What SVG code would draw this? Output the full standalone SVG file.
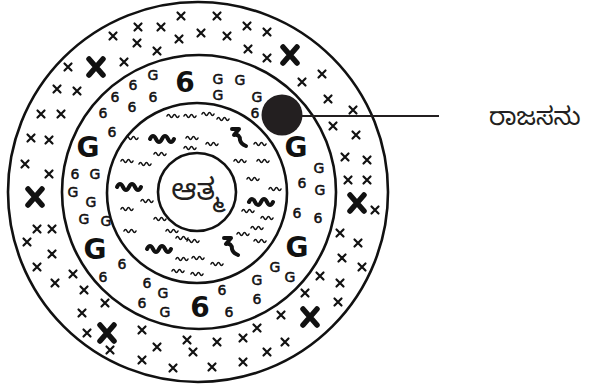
<svg xmlns="http://www.w3.org/2000/svg" xmlns:xlink="http://www.w3.org/1999/xlink" width="599" height="389" viewBox="0 0 599 389">
<style>
.ring{fill:none;stroke:#111;stroke-width:2.6}
.xs{stroke:#111;stroke-width:2.2;fill:none;stroke-linecap:round}
.xb{stroke:#111;stroke-width:5.5;fill:none;stroke-linecap:round}
.sq{stroke:#111;stroke-width:1.6;fill:none;stroke-linecap:round}
.sqb{stroke:#111;stroke-width:4;fill:none;stroke-linecap:round;stroke-linejoin:round}
.g{font-family:"DejaVu Sans",sans-serif;font-size:14px;fill:#111;stroke:#111;stroke-width:0.5;text-anchor:middle}
.gb{font-family:"DejaVu Sans",sans-serif;font-size:28px;font-weight:bold;fill:#111;text-anchor:middle}
.kn{font-family:"Noto Sans Kannada","Noto Sans","DejaVu Sans",sans-serif;fill:#231f20}
.conn{stroke:#231f20;stroke-width:2;fill:none}
</style>
<defs>
<path id="x" d="M-3.5,-3.5 L3.5,3.5 M3.5,-3.5 L-3.5,3.5"/>
<path id="X" d="M-7,-8 L7,8 M7,-8 L-7,8"/>
<path id="s" d="M-6,1 q1.5,-3 3,0 t3,0 t3,0 t3,0"/>
<path id="S" d="M-13,2 q3,-6 6,0 t6,0 t6,0 t6,0"/>
<path id="Z" d="M-6,-9 l7,0 l-5,6 q6,-1 6,5 q1,4 6,6"/>
</defs>
<rect width="599" height="389" fill="#fff"/>
<g id="outer-ring">
<circle class="ring" cx="198" cy="192" r="190"/>
<g class="xs">
<use href="#x" x="181" y="16"/><use href="#x" x="217" y="16"/><use href="#x" x="138" y="27"/><use href="#x" x="161" y="27"/>
<use href="#x" x="247" y="26"/><use href="#x" x="267" y="32"/><use href="#x" x="113" y="36"/><use href="#x" x="201" y="33"/>
<use href="#x" x="227" y="36"/><use href="#x" x="137" y="43"/><use href="#x" x="179" y="39"/><use href="#x" x="157" y="51"/>
<use href="#x" x="248" y="49"/><use href="#x" x="267" y="58"/><use href="#x" x="124" y="62"/><use href="#x" x="68" y="67"/>
<use href="#x" x="322" y="74"/><use href="#x" x="302" y="82"/><use href="#x" x="57" y="89"/><use href="#x" x="77" y="91"/>
<use href="#x" x="328" y="99"/><use href="#x" x="353" y="110"/><use href="#x" x="41" y="114"/><use href="#x" x="61" y="114"/>
<use href="#x" x="333" y="126"/><use href="#x" x="356" y="135"/><use href="#x" x="31" y="138"/><use href="#x" x="49" y="140"/>
<use href="#x" x="345" y="157"/><use href="#x" x="367" y="160"/><use href="#x" x="25" y="164"/><use href="#x" x="49" y="174"/>
<use href="#x" x="348" y="180"/><use href="#x" x="367" y="180"/><use href="#x" x="375" y="210"/><use href="#x" x="37" y="229"/>
<use href="#x" x="52" y="229"/><use href="#x" x="27" y="242"/><use href="#x" x="340" y="233"/><use href="#x" x="358" y="243"/>
<use href="#x" x="52" y="254"/><use href="#x" x="342" y="258"/><use href="#x" x="362" y="267"/><use href="#x" x="37" y="267"/>
<use href="#x" x="73" y="274"/><use href="#x" x="320" y="276"/><use href="#x" x="340" y="283"/><use href="#x" x="55" y="283"/>
<use href="#x" x="84" y="290"/><use href="#x" x="305" y="293"/><use href="#x" x="338" y="302"/><use href="#x" x="105" y="303"/>
<use href="#x" x="82" y="313"/><use href="#x" x="281" y="315"/><use href="#x" x="87" y="333"/><use href="#x" x="142" y="330"/>
<use href="#x" x="187" y="340"/><use href="#x" x="257" y="328"/><use href="#x" x="157" y="347"/><use href="#x" x="217" y="342"/>
<use href="#x" x="243" y="338"/><use href="#x" x="285" y="342"/><use href="#x" x="110" y="350"/><use href="#x" x="193" y="352"/>
<use href="#x" x="267" y="352"/><use href="#x" x="142" y="360"/><use href="#x" x="173" y="368"/><use href="#x" x="212" y="367"/>
<use href="#x" x="243" y="362"/>
</g>
<g class="xb">
<use href="#X" x="96" y="67"/><use href="#X" x="290" y="55"/><use href="#X" x="35" y="197"/>
<use href="#X" x="357" y="203"/><use href="#X" x="310" y="317"/><use href="#X" x="107" y="333"/>
</g>
</g>
<g id="middle-ring">
<circle class="ring" cx="199" cy="192" r="137"/>
<text class="gb" x="185" y="92">6</text>
<text class="gb" x="88" y="157">G</text>
<text class="gb" x="296" y="157">G</text>
<text class="gb" x="95" y="259">G</text>
<text class="gb" x="297" y="257">G</text>
<text class="gb" x="200" y="317">6</text>
<g class="g">
<text x="153" y="80">G</text><text x="133" y="90">6</text><text x="115" y="102">6</text><text x="132" y="112">6</text>
<text x="153" y="102">6</text><text x="103" y="118">6</text><text x="112" y="137">6</text><text x="218" y="84">G</text>
<text x="240" y="85">G</text><text x="218" y="100">G</text><text x="257" y="102">G</text><text x="255" y="118">6</text>
<text x="75" y="179">6</text><text x="95" y="179">G</text><text x="73" y="197">G</text><text x="91" y="207">G</text>
<text x="84" y="224">G</text><text x="106" y="226">G</text><text x="122" y="269">6</text><text x="103" y="282">6</text>
<text x="147" y="288">6</text><text x="163" y="298">G</text><text x="142" y="308">6</text><text x="165" y="317">G</text>
<text x="222" y="295">6</text><text x="229" y="317">6</text><text x="257" y="285">G</text><text x="257" y="304">6</text>
<text x="275" y="272">G</text><text x="290" y="282">G</text><text x="319" y="173">G</text><text x="302" y="188">6</text>
<text x="320" y="195">G</text><text x="297" y="218">6</text><text x="318" y="223">6</text>
</g>
</g>
<g id="inner-ring">
<circle class="ring" cx="197" cy="193" r="90"/>
<g class="sqb">
<use href="#S" x="163" y="137"/><use href="#S" x="130" y="185"/><use href="#S" x="262" y="200"/><use href="#S" x="160" y="247"/>
<use href="#Z" x="238" y="138"/><use href="#Z" x="230" y="247"/>
</g>
<g class="sq">
<use href="#s" x="173" y="115"/><use href="#s" x="190" y="115"/><use href="#s" x="208" y="113"/><use href="#s" x="223" y="118"/>
<use href="#s" x="132" y="137"/><use href="#s" x="192" y="137"/><use href="#s" x="212" y="143"/><use href="#s" x="260" y="143"/>
<use href="#s" x="127" y="160"/><use href="#s" x="145" y="163"/><use href="#s" x="190" y="147"/><use href="#s" x="160" y="153"/>
<use href="#s" x="240" y="160"/><use href="#s" x="263" y="160"/><use href="#s" x="253" y="178"/><use href="#s" x="275" y="188"/>
<use href="#s" x="147" y="200"/><use href="#s" x="127" y="208"/><use href="#s" x="248" y="210"/><use href="#s" x="267" y="217"/>
<use href="#s" x="160" y="218"/><use href="#s" x="130" y="230"/><use href="#s" x="257" y="227"/><use href="#s" x="172" y="230"/>
<use href="#s" x="243" y="233"/><use href="#s" x="182" y="237"/><use href="#s" x="193" y="240"/><use href="#s" x="260" y="240"/>
<use href="#s" x="182" y="258"/><use href="#s" x="198" y="257"/><use href="#s" x="217" y="263"/><use href="#s" x="178" y="270"/>
<use href="#s" x="197" y="273"/>
</g>
</g>
<g id="core">
<circle class="ring" cx="197" cy="192" r="39"/>
<text class="kn" x="197" y="200" font-size="30" text-anchor="middle">ಆತ್ಮ</text>
</g>
<g id="connectors">
<line class="conn" x1="290" y1="116" x2="439" y2="116"/>
</g>
<g id="dot">
<circle cx="282" cy="115" r="20.5" fill="#231f20"/>
</g>
<g id="label">
<text class="kn" x="489" y="125" font-size="25">ರಾಜಸನು</text>
</g>
</svg>
